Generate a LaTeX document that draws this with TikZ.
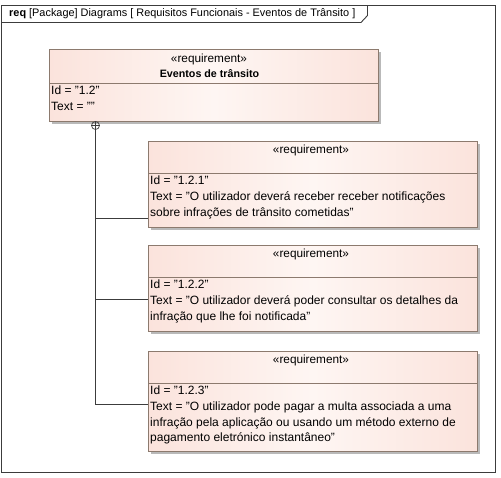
\documentclass[tikz,border=0pt]{standalone}
\usepackage{fontspec}
\setmainfont{Liberation Sans}
\usetikzlibrary{shadows}
\definecolor{reqborder}{HTML}{8C7A6E}
\definecolor{reqpink}{HTML}{FBE3DC}
\definecolor{reqlight}{HTML}{FEF6F3}
\definecolor{framecol}{HTML}{3C3C3C}
\definecolor{shadowcol}{HTML}{A8A8A8}
\begin{document}
\begin{tikzpicture}[x=1pt,y=-1pt,
  reqbox/.style={draw=reqborder, line width=0.9pt, rectangle, anchor=north west,
    minimum width=329pt, inner sep=0pt,
    left color=reqpink, right color=reqpink, middle color=reqlight,
    drop shadow={shadow xshift=3pt, shadow yshift=-3pt, fill=shadowcol, opacity=0.8}},
  compline/.style={draw=reqborder, line width=0.9pt},
  txt/.style={font=\fontsize{12}{15.8}\selectfont, inner sep=0pt, anchor=north west, align=left},
  ster/.style={font=\fontsize{11.8}{15.5}\selectfont, inner sep=0pt},
  conn/.style={draw=framecol, line width=0.8pt},
  framestyle/.style={draw=framecol, line width=0.9pt}
]
\useasboundingbox (0,0) rectangle (501,477);
% frame
\draw[framestyle] (1.5,5.5) rectangle (495.5,472.5);
\draw[framestyle] (1.5,22.5) -- (361,22.5) -- (367.5,15.5) -- (367.5,5.5);
\node (title) [anchor=west, inner sep=0pt, font=\fontsize{10.9}{14}\selectfont] at (9,14)
  {\textbf{req} [Package] Diagrams [ Requisitos Funcionais - Eventos de Trânsito ]};

% requirement boxes
\node (r1) [reqbox, minimum height=72pt] at (49,49) {};
\node (r2) [reqbox, minimum height=86pt] at (148,141) {};
\node (r3) [reqbox, minimum height=86pt] at (148,245) {};
\node (r4) [reqbox, minimum height=100pt] at (148,351) {};

% compartments
\draw[compline] ([yshift=-34pt]r1.north west) -- ([yshift=-34pt]r1.north east);
\draw[compline] ([yshift=-32pt]r2.north west) -- ([yshift=-32pt]r2.north east);
\draw[compline] ([yshift=-32pt]r3.north west) -- ([yshift=-32pt]r3.north east);
\draw[compline] ([yshift=-32pt]r4.north west) -- ([yshift=-32pt]r4.north east);

% box 1 texts
\node (s1) [ster] at (209,59) {«requirement»};
\node (n1) [ster, font=\fontsize{10.7}{15.5}\selectfont\bfseries] at (209.5,73.5) {Eventos de trânsito};
\node (t1) [txt] at (51,86) {Id = "1.2"\\Text = ""};

% box 2
\node (s2) [ster] at (311,150) {«requirement»};
\node (t2) [txt] at (150,176) {Id = "1.2.1"\\Text = "O utilizador deverá receber receber notificações\\sobre infrações de trânsito cometidas"};

% box 3
\node (s3) [ster] at (311,254) {«requirement»};
\node (t3) [txt] at (150,280) {Id = "1.2.2"\\Text = "O utilizador deverá poder consultar os detalhes da\\infração que lhe foi notificada"};

% box 4
\node (s4) [ster] at (311,360) {«requirement»};
\node (t4) [txt] at (150,385.5) {Id = "1.2.3"\\Text = "O utilizador pode pagar a multa associada a uma\\infração pela aplicação ou usando um método externo de\\pagamento eletrónico instantâneo"};

% containment connector
\node (cp) [circle, draw=framecol, line width=0.7pt, minimum size=8pt, inner sep=0pt] at (95.5,125.5) {};
\draw[conn, line width=0.7pt] (cp.north) -- (cp.south) (cp.west) -- (cp.east);
\draw[conn] (cp.south) |- ([yshift=10pt]r2.south west);
\draw[conn] (cp.south) |- ([yshift=33pt]r3.south west);
\draw[conn] (cp.south) |- ([yshift=48pt]r4.south west);
\end{tikzpicture}
\end{document}
